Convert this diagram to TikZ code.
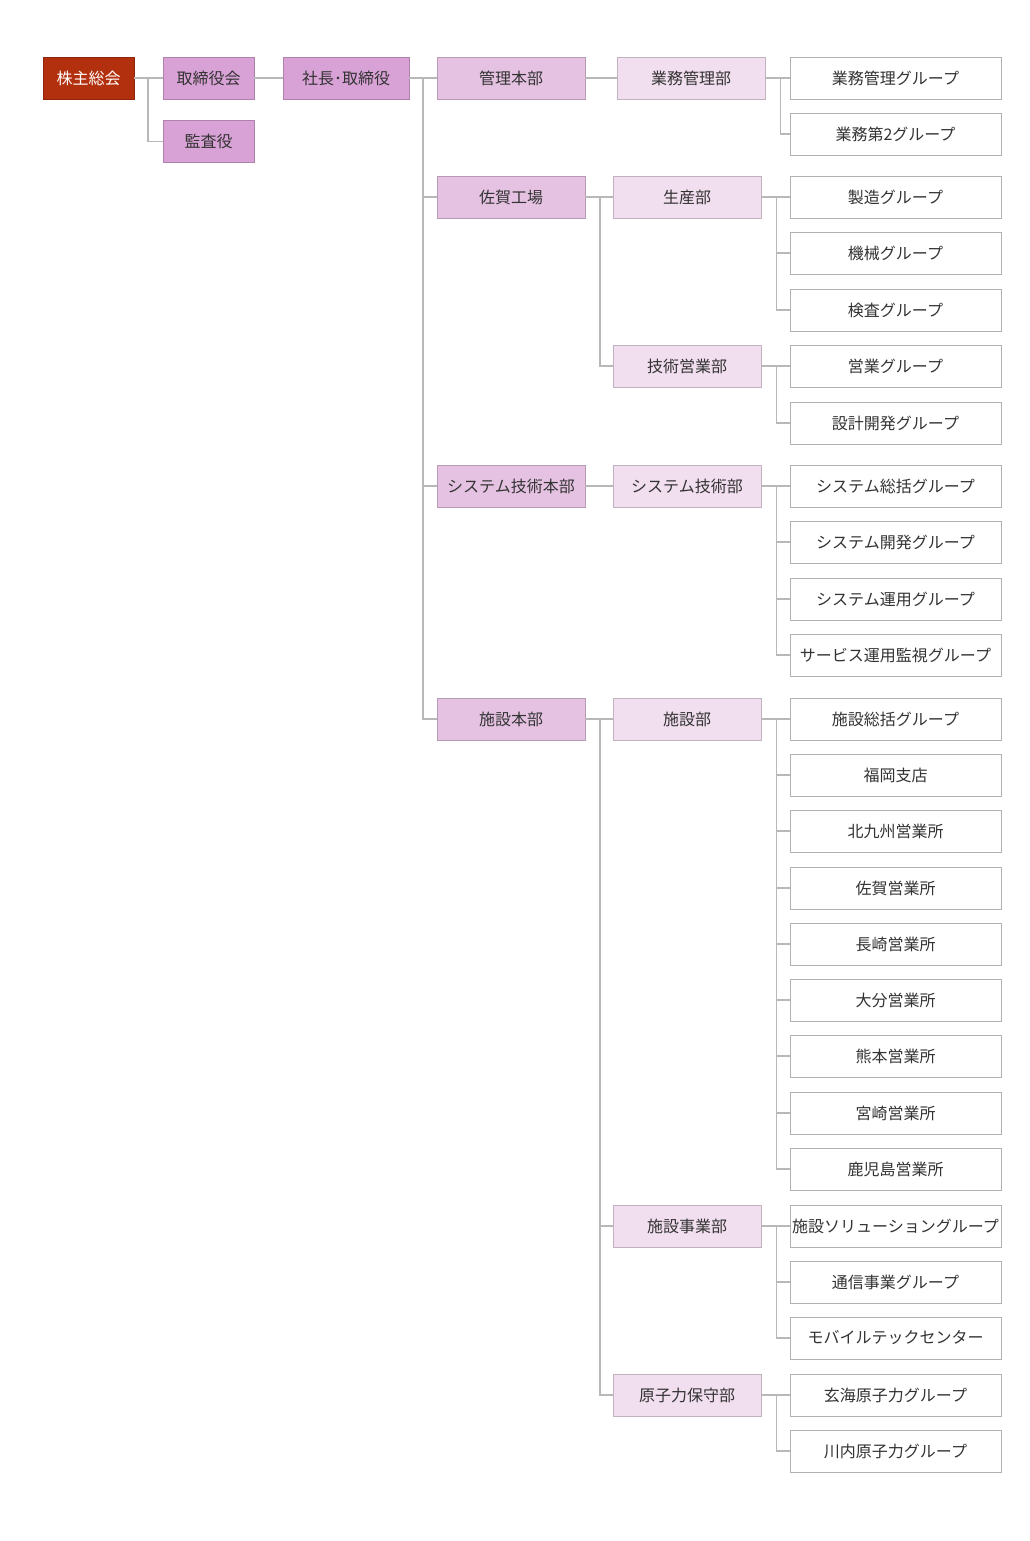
\documentclass[tikz,border=0pt]{standalone}
\usepackage{fontspec}
\setmainfont{Noto Sans CJK JP}
\begin{document}
\begin{tikzpicture}[x=0.75pt,y=-0.75pt,
  bx/.style={draw=#1!70!black!40!gray, minimum height=31.5pt, inner sep=0pt, font=\fontsize{12}{14}\selectfont, text=black!80},
  top/.style={bx=red, fill=topc, draw=topc!80!black, text=white, minimum width=68.25pt},
  l1/.style={bx=gray, fill=c1, draw=c1!80!black, minimum width=68.25pt},
  l3/.style={bx=gray, fill=c3, draw=c3!80!black, minimum width=111pt},
  l4/.style={bx=gray, fill=c4, draw=c4!80!black, minimum width=111pt},
  g/.style={bx=gray, fill=white, draw=black!30, minimum width=158.25pt},
  ln/.style={draw=black!28, line width=0.8pt}]
\definecolor{topc}{HTML}{B3300E}
\definecolor{c1}{HTML}{D9A2D6}
\definecolor{c3}{HTML}{E5C2E2}
\definecolor{c4}{HTML}{F1DEEF}
\useasboundingbox (0,0) rectangle (1030,1541);
\node[top] (kabu) at (88.5,78) {株主総会};
\node[l1] (tori) at (208.5,78) {取締役会};
\node[l1] (kan) at (208.5,141.5) {監査役};
\node[l1,minimum width=94.5pt] (sha) at (346,78) {社長･取締役};
\node[l3] (h1) at (511,78) {管理本部};
\node[l3] (h2) at (511,197) {佐賀工場};
\node[l3] (h3) at (511,486) {システム技術本部};
\node[l3] (h4) at (511,719) {施設本部};
\node[l4] (b1) at (691,78) {業務管理部};
\node[l4] (b2) at (687,197) {生産部};
\node[l4] (b3) at (687,366) {技術営業部};
\node[l4] (b4) at (687,486) {システム技術部};
\node[l4] (b5) at (687,719) {施設部};
\node[l4] (b6) at (687,1226) {施設事業部};
\node[l4] (b7) at (687,1395) {原子力保守部};
\foreach \n/\y/\t in {
 g1/78/業務管理グループ, g2/134/業務第2グループ,
 g3/197/製造グループ, g4/253/機械グループ, g5/310/検査グループ,
 g6/366/営業グループ, g7/423/設計開発グループ,
 g8/486/システム総括グループ, g9/542/システム開発グループ, g10/599/システム運用グループ, g11/655/サービス運用監視グループ,
 g12/719/施設総括グループ, g13/775/福岡支店, g14/831/北九州営業所, g15/888/佐賀営業所, g16/944/長崎営業所, g17/1000/大分営業所, g18/1056/熊本営業所, g19/1113/宮崎営業所, g20/1169/鹿児島営業所,
 g21/1226/施設ソリューショングループ, g22/1282/通信事業グループ, g23/1338/モバイルテックセンター,
 g24/1395/玄海原子力グループ, g25/1451/川内原子力グループ}
 \node[g] (\n) at (895.5,\y) {\t};
% connectors
\draw[ln] (kabu) -- (tori);
\draw[ln] (148,78) |- (kan);
\draw[ln] (tori) -- (sha);
\draw[ln] (sha) -- (h1);
\foreach \h in {h2,h3,h4} \draw[ln] (423,78) |- (\h);
\draw[ln] (h1) -- (b1);
\draw[ln] (h2) -- (b2);
\draw[ln] (600,197) |- (b3);
\draw[ln] (h3) -- (b4);
\draw[ln] (h4) -- (b5);
\foreach \b in {b6,b7} \draw[ln] (600,719) |- (\b);
\foreach \b/\gs in {b1/{g1,g2}, b2/{g3,g4,g5}, b3/{g6,g7}, b4/{g8,g9,g10,g11}, b5/{g12,g13,g14,g15,g16,g17,g18,g19,g20}, b6/{g21,g22,g23}, b7/{g24,g25}}
 \foreach \gg in \gs \draw[ln] (\b.east) -- ++(15,0) |- (\gg.west);
\end{tikzpicture}
\end{document}
